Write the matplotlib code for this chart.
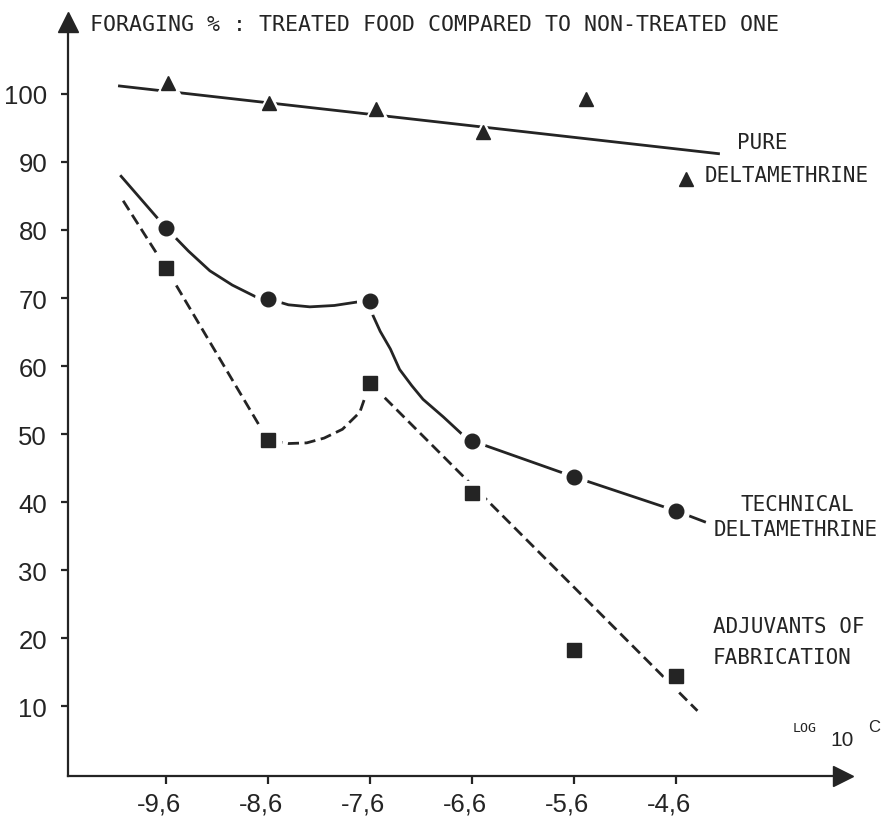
import matplotlib
matplotlib.use("Agg")
import matplotlib.pyplot as plt
from matplotlib.transforms import ScaledTranslation

# valeurs (x = log10 C, y = % de butinage)
ticks_x = [-9.6, -8.6, -7.6, -6.6, -5.6, -4.6]
ticks_x_labels = ["-9,6", "-8,6", "-7,6", "-6,6", "-5,6", "-4,6"]
ticks_y = [10, 20, 30, 40, 50, 60, 70, 80, 90, 100]

pure_x = [-9.58, -8.59, -7.54, -6.49, -5.48, -4.50]
pure_y = [101.6, 98.7, 97.8, 94.4, 99.3, 87.5]
pure_line_x = [-10.07, -4.17]
pure_line_y = [101.2, 91.2]

tech_x = [-9.6, -8.6, -7.6, -6.6, -5.6, -4.6]
tech_y = [80.3, 69.9, 69.6, 49.0, 43.7, 38.7]
tech_line_x = [-10.04, -9.6, -9.38, -9.17, -8.95, -8.71, -8.6, -8.40, -8.19, -7.95, -7.73,
               -7.6, -7.57, -7.50, -7.40, -7.31, -7.19, -7.08, -6.88, -6.70, -6.6,
               -5.6, -4.6, -4.32]
tech_line_y = [87.9, 80.3, 76.9, 74.0, 71.9, 70.1, 69.9, 69.0, 68.7, 68.9, 69.4,
               69.6, 67.4, 65.1, 62.5, 59.5, 57.1, 55.1, 52.5, 50.0, 49.0,
               43.7, 38.7, 37.1]

adj_x = [-9.6, -8.6, -7.6, -6.6, -5.6, -4.6]
adj_y = [74.4, 49.1, 57.5, 41.3, 18.2, 14.4]
adj_line_x = [-10.02, -9.6, -8.6, -8.40, -8.22, -8.05, -7.87, -7.70, -7.6, -4.39]
adj_line_y = [84.3, 74.4, 49.1, 48.6, 48.7, 49.4, 50.7, 53.2, 57.5, 9.3]

ink = "#242424"
mono = "DejaVu Sans Mono"
narrow = ["Liberation Sans", "DejaVu Sans"]

fig = plt.figure(figsize=(8.84, 8.20), dpi=100)
ax = fig.add_axes([0.0769, 0.0524, 0.8767, 0.9196])
ax.set_xlim(-10.561, -2.963)
ax.set_ylim(-0.29, 110.59)

# courbes
ax.plot(pure_line_x, pure_line_y, color=ink, lw=2.0, solid_capstyle="butt", zorder=2)
ax.plot(tech_line_x, tech_line_y, color=ink, lw=2.0, solid_joinstyle="round", zorder=2)
ax.plot(adj_line_x, adj_line_y, color=ink, lw=2.0, linestyle=(0, (4, 2)), zorder=2)

# marqueurs avec un halo blanc (les traits s'arrêtent avant les points)
for xs, ys, m, ms in [(pure_x, pure_y, "^", 10), (tech_x, tech_y, "o", 10.5), (adj_x, adj_y, "s", 10)]:
    ax.plot(xs, ys, m, color="white", ms=ms + 8, zorder=3)
    ax.plot(xs, ys, m, color=ink, ms=ms, zorder=4)

# axes
for side in ["top", "right"]:
    ax.spines[side].set_visible(False)
for side in ["left", "bottom"]:
    ax.spines[side].set_linewidth(1.6)
    ax.spines[side].set_color(ink)
ax.plot([1], [0], ">", color=ink, ms=15, transform=ax.transAxes, clip_on=False)
ax.plot([0], [1], "^", color=ink, ms=15, transform=ax.transAxes, clip_on=False)

ax.set_xticks(ticks_x)
ax.set_xticklabels(ticks_x_labels, fontfamily=narrow, fontsize=18.5)
ax.set_yticks(ticks_y)
ax.set_yticklabels([str(v) for v in ticks_y], fontfamily=narrow, fontsize=18.5)
ax.tick_params(axis="x", direction="out", length=6, width=1.6, color=ink, pad=5, labelcolor=ink)
ax.tick_params(axis="y", direction="out", length=5, width=1.6, color=ink, pad=10, labelcolor=ink)
# les étiquettes de l'axe x sont un peu décalées à gauche des graduations
for lab in ax.get_xticklabels():
    lab.set_transform(lab.get_transform() + ScaledTranslation(-0.07, 0, fig.dpi_scale_trans))

# textes
ax.text(-10.35, 110.3, "FORAGING % : TREATED FOOD COMPARED TO NON-TREATED ONE",
        fontfamily=mono, fontsize=15.5, color=ink, ha="left", va="center")
ax.text(-4.0, 92.9, "PURE", fontfamily=mono, fontsize=15, color=ink, va="center")
ax.text(-4.32, 88.1, "DELTAMETHRINE", fontfamily=mono, fontsize=15, color=ink, va="center")
ax.text(-3.97, 39.7, "TECHNICAL", fontfamily=mono, fontsize=15, color=ink, va="center")
ax.text(-4.23, 36.0, "DELTAMETHRINE", fontfamily=mono, fontsize=15, color=ink, va="center")
ax.text(-4.24, 21.8, "ADJUVANTS OF", fontfamily=mono, fontsize=15, color=ink, va="center")
ax.text(-4.24, 17.2, "FABRICATION", fontfamily=mono, fontsize=15, color=ink, va="center")
ax.text(-3.46, 6.9, "LOG", fontfamily=mono, fontsize=9.5, color=ink, va="center")
ax.text(-3.09, 5.15, "10", fontfamily=narrow, fontsize=15, color=ink, va="center")
ax.text(-2.72, 7.06, "C", fontfamily=narrow, fontsize=12, color=ink, va="center")

fig.savefig("out.png", dpi=100)
